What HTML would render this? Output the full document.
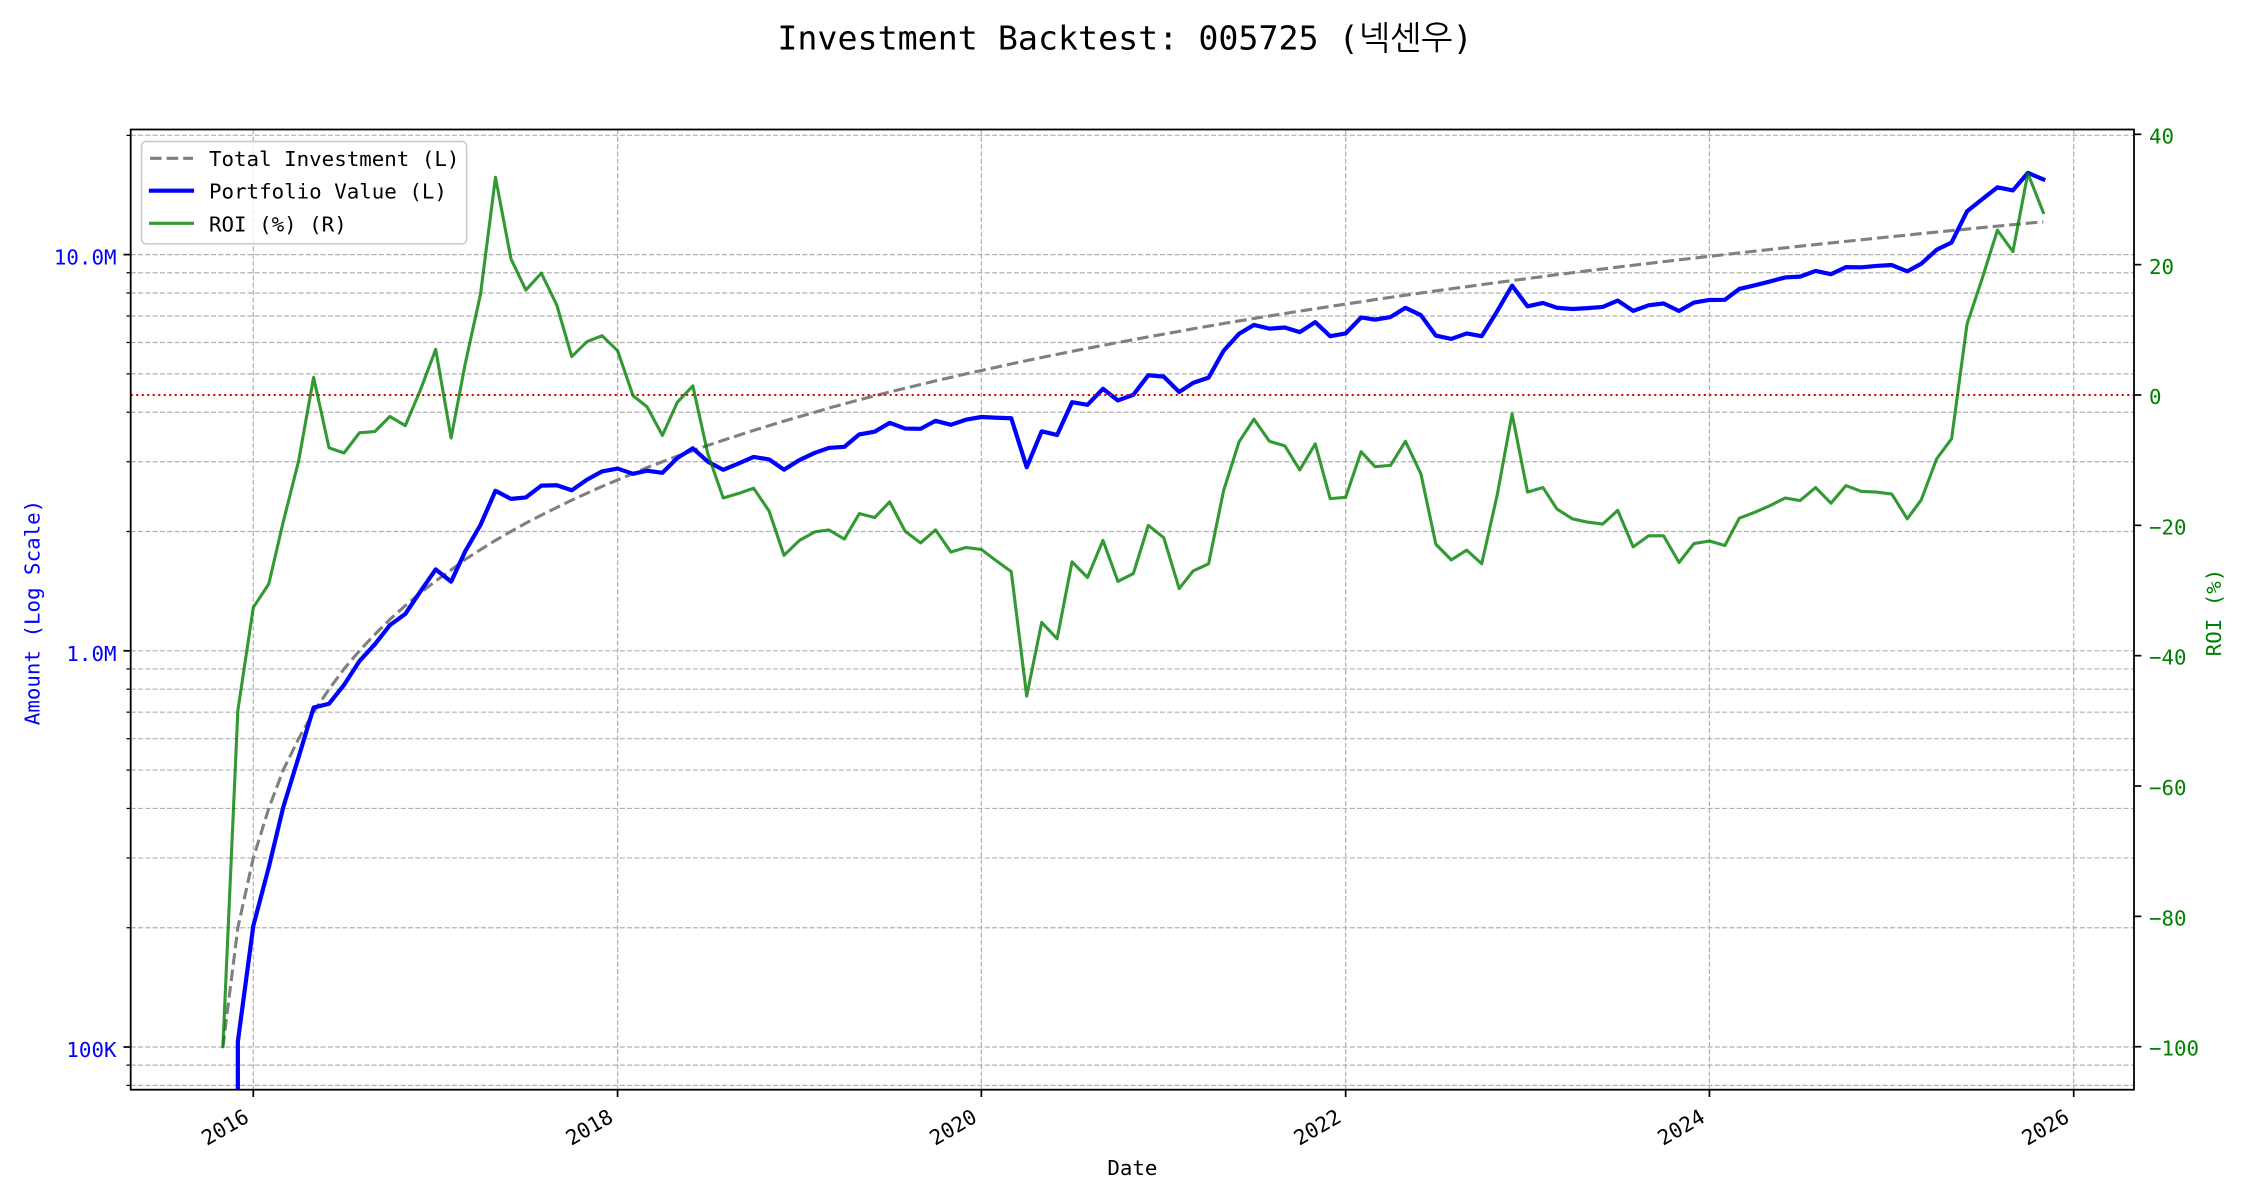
<!DOCTYPE html>
<html>
<head>
<meta charset="utf-8">
<style>
  html,body{margin:0;padding:0;background:#fff;}
  svg{display:block;}
  text{font-family:"DejaVu Sans Mono","Liberation Mono","NanumGothic","Noto Sans CJK KR",monospace;}
</style>
</head>
<body>
<svg id="c" xmlns="http://www.w3.org/2000/svg" width="2250" height="1200" viewBox="0 0 2250 1200">
  <rect x="0" y="0" width="2250" height="1200" fill="#ffffff"/>
  <defs>
    <clipPath id="ax"><rect x="130.7" y="129.5" width="2003.3" height="960.2"/></clipPath>
  </defs>

  <!-- grid -->
  <g id="grid" stroke="#b0b0b0" stroke-width="1.2" stroke-dasharray="5 2.3" fill="none"></g>

  <!-- series -->
  <g clip-path="url(#ax)" fill="none">
    <polyline id="gray" stroke="#808080" stroke-width="3.1" stroke-dasharray="11.6 5" stroke-linejoin="round"/>
    <polyline id="blue" stroke="#0000ff" stroke-width="4.2" stroke-linejoin="round" stroke-linecap="square"/>
    <line x1="130.7" x2="2134" y1="395" y2="395" stroke="#e00000" stroke-width="2.1" stroke-dasharray="2.1 3.4"/>
    <polyline id="green" stroke="#008000" stroke-opacity="0.8" stroke-width="3.1" stroke-linejoin="round" stroke-linecap="square"/>
  </g>

  <!-- ticks -->
  <g id="ticks" stroke="#000" fill="none"></g>

  <!-- spines -->
  <rect x="130.7" y="129.5" width="2003.3" height="960.2" fill="none" stroke="#000" stroke-width="1.8"/>

  <!-- left tick labels -->
  <g fill="#0000ff" font-size="20.8" text-anchor="end">
    <text x="116.5" y="264.6">10.0M</text>
    <text x="116.5" y="660.8">1.0M</text>
    <text x="116.5" y="1057">100K</text>
  </g>

  <!-- right tick labels -->
  <g fill="#008000" font-size="20.8" text-anchor="start">
    <text x="2149" y="143.5">40</text>
    <text x="2149" y="273.8">20</text>
    <text x="2149" y="404">0</text>
    <text x="2149" y="534.4">−20</text>
    <text x="2149" y="664.7">−40</text>
    <text x="2149" y="795">−60</text>
    <text x="2149" y="925.4">−80</text>
    <text x="2149" y="1055.7">−100</text>
  </g>

  <!-- x tick labels -->
  <g fill="#000" font-size="20.8" text-anchor="end">
    <text x="250.3" y="1121" transform="rotate(-30 250.3 1121)">2016</text>
    <text x="614.6" y="1121" transform="rotate(-30 614.6 1121)">2018</text>
    <text x="978.4" y="1121" transform="rotate(-30 978.4 1121)">2020</text>
    <text x="1342.6" y="1121" transform="rotate(-30 1342.6 1121)">2022</text>
    <text x="1706.4" y="1121" transform="rotate(-30 1706.4 1121)">2024</text>
    <text x="2070.7" y="1121" transform="rotate(-30 2070.7 1121)">2026</text>
  </g>

  <!-- axis labels -->
  <text x="1132.4" y="1175" font-size="20.8" fill="#000" text-anchor="middle">Date</text>
  <text x="39.5" y="612.5" font-size="20.8" fill="#0000ff" text-anchor="middle" transform="rotate(-90 39.5 612.5)">Amount (Log Scale)</text>
  <text x="2221" y="612.5" font-size="20.8" fill="#008000" text-anchor="middle" transform="rotate(-90 2221 612.5)">ROI (%)</text>

  <!-- title -->
  <text x="1125" y="49.3" font-size="33.3" fill="#000" text-anchor="middle">Investment Backtest: 005725 (<tspan font-family="NanumGothic,'Noto Sans CJK KR',sans-serif">넥센우</tspan>)</text>

  <!-- legend -->
  <rect x="141.6" y="141.5" width="325" height="102.3" rx="4.5" ry="4.5" fill="#ffffff" fill-opacity="0.8" stroke="#cccccc" stroke-width="1.7"/>
  <line x1="150" x2="193" y1="158.3" y2="158.3" stroke="#808080" stroke-width="3.1" stroke-dasharray="11.6 5"/>
  <line x1="151" x2="192" y1="190.7" y2="190.7" stroke="#0000ff" stroke-width="4.2" stroke-linecap="square"/>
  <line x1="150.5" x2="192.5" y1="223.3" y2="223.3" stroke="#008000" stroke-opacity="0.8" stroke-width="3.1" stroke-linecap="square"/>
  <g fill="#000" font-size="20.8">
    <text x="209" y="166">Total Investment (L)</text>
    <text x="209" y="198.7">Portfolio Value (L)</text>
    <text x="209" y="231.3">ROI (%) (R)</text>
  </g>
</svg>

<script>
(function(){
  var NS='http://www.w3.org/2000/svg';
  function el(p,tag,a){var e=document.createElementNS(NS,tag);for(var k in a)e.setAttribute(k,a[k]);p.appendChild(e);return e;}
  var X0=253.3, XS=0.49833;
  var base=Date.UTC(2016,0,1);
  function xOf(i){return X0+XS*((Date.UTC(2015,10+i,1)-base)/864e5);}
  function xYear(y){return X0+XS*((Date.UTC(y,0,1)-base)/864e5);}
  function LY(v){return 1047-396.2*Math.log10(v/1e5);}
  function RY(r){return 395-6.517*r;}

  var roi=[-100,-48.4,-32.6,-29.0,-19.5,-10.1,2.7,-8.1,-8.9,-5.8,
    -5.6,-3.3,-4.7,0.7,7.0,-6.6,4.7,15.5,33.4,20.9,
    16.1,18.7,13.8,5.9,8.2,9.1,6.8,-0.1,-1.8,-6.2,
    -1.1,1.4,-9.0,-15.8,-15.1,-14.3,-17.8,-24.6,-22.3,-21.0,
    -20.7,-22.1,-18.2,-18.8,-16.4,-20.9,-22.7,-20.7,-24.1,-23.4,
    -23.7,-25.5,-27.1,-46.2,-34.9,-37.4,-25.6,-28.0,-22.3,-28.6,
    -27.4,-20.0,-21.9,-29.7,-27.0,-25.9,-14.7,-7.2,-3.7,-7.1,
    -7.8,-11.5,-7.5,-15.9,-15.7,-8.7,-11.0,-10.8,-7.1,-12.1,
    -22.9,-25.3,-23.8,-25.9,-15.4,-2.9,-14.9,-14.2,-17.5,-19.0,
    -19.5,-19.8,-17.7,-23.3,-21.6,-21.6,-25.7,-22.8,-22.4,-23.1,
    -18.9,-18.0,-17.0,-15.8,-16.2,-14.2,-16.6,-13.9,-14.8,-14.9,
    -15.2,-19.0,-16.1,-9.8,-6.7,10.9,17.8,25.3,22.0,34.0,
    28.0];

  var g=[],b=[],gr=[];
  for(var i=0;i<roi.length;i++){
    var x=xOf(i), inv=(i+1)*1e5;
    g.push(x.toFixed(2)+','+LY(inv).toFixed(2));
    gr.push(x.toFixed(2)+','+RY(roi[i]).toFixed(2));
    if(i===1) b.push(x.toFixed(2)+',1200');
    if(i>=1){
      var v=inv*(1+roi[i]/100);
      b.push(x.toFixed(2)+','+LY(v).toFixed(2));
    }
  }
  document.getElementById('gray').setAttribute('points',g.join(' '));
  document.getElementById('blue').setAttribute('points',b.join(' '));
  document.getElementById('green').setAttribute('points',gr.join(' '));

  // grid
  var grid=document.getElementById('grid');
  var vals=[8e4,9e4];
  for(var k=1;k<=9;k++)vals.push(k*1e5);
  for(k=1;k<=9;k++)vals.push(k*1e6);
  vals.push(1e7,2e7);
  vals.forEach(function(v){var y=LY(v);el(grid,'line',{x1:130.7,x2:2134,y1:y.toFixed(2),y2:y.toFixed(2)});});
  var years=[2016,2018,2020,2022,2024,2026];
  years.forEach(function(yr){var x=xYear(yr);el(grid,'line',{x1:x.toFixed(2),x2:x.toFixed(2),y1:129.5,y2:1089.7});});

  // ticks
  var t=document.getElementById('ticks');
  vals.forEach(function(v){
    var y=LY(v).toFixed(2);
    var major=(v===1e5||v===1e6||v===1e7);
    el(t,'line',{x1:(130.7-(major?7.3:4.2)),x2:130.7,y1:y,y2:y,'stroke-width':(major?1.7:1.25)});
  });
  for(var r=40;r>=-100;r-=20){
    var y=RY(r).toFixed(2);
    el(t,'line',{x1:2134,x2:2141.3,y1:y,y2:y,'stroke-width':1.7});
  }
  years.forEach(function(yr){var x=xYear(yr).toFixed(2);el(t,'line',{x1:x,x2:x,y1:1089.7,y2:1097,'stroke-width':1.7});});
})();
</script>
</body>
</html>
